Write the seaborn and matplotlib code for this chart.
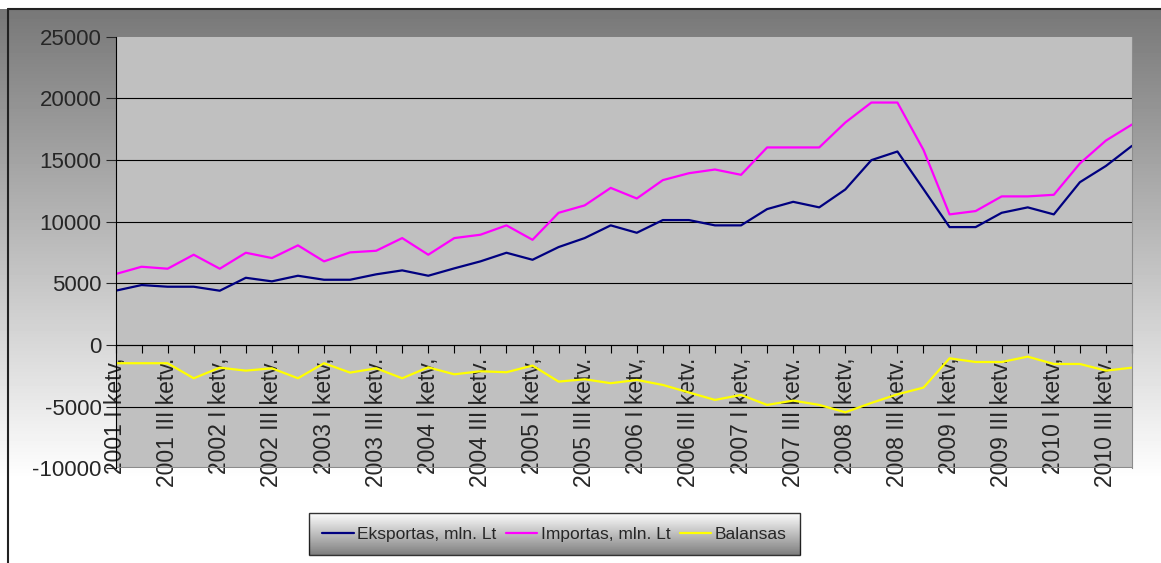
import numpy as np
import pandas as pd
import seaborn as sns
from matplotlib import pyplot as plt
from matplotlib.lines import Line2D

# ketvirčiai 2001 I - 2010 IV
years = [2001, 2002, 2003, 2004, 2005, 2006, 2007, 2008, 2009, 2010]
tick_labels = []
for y in years:
    tick_labels.append(f"{y} I ketv,")
    tick_labels.append(f"{y} III ketv.")

eksportas = [4400, 4860, 4725, 4725, 4400, 5450, 5160, 5615, 5290, 5290,
             5730, 6050, 5615, 6215, 6780, 7480, 6910, 7940, 8670, 9700,
             9100, 10130, 10130, 9700, 9700, 11020, 11610, 11160, 12610, 14990,
             15690, 12640, 9560, 9560, 10720, 11160, 10590, 13200, 14520, 16150]
importas = [5750, 6345, 6185, 7320, 6185, 7480, 7050, 8080, 6780, 7510,
            7640, 8670, 7320, 8670, 8940, 9700, 8530, 10720, 11320, 12740,
            11880, 13370, 13930, 14230, 13800, 16020, 16020, 16020, 18040, 19660,
            19660, 15820, 10590, 10860, 12050, 12050, 12180, 14720, 16580, 17880]
balansas = [-1480, -1480, -1480, -2700, -1840, -2080, -1890, -2700, -1480, -2240,
            -1890, -2700, -1810, -2380, -2130, -2210, -1670, -2970, -2780, -3100,
            -2835, -3240, -3850, -4455, -4050, -4860, -4510, -4860, -5455, -4700,
            -4000, -3455, -1080, -1380, -1380, -945, -1540, -1540, -2080, -1840]

series_names = ["Eksportas, mln. Lt", "Importas, mln. Lt", "Balansas"]
colors = ["#000080", "#FF00FF", "#FFFF00"]

n = len(eksportas)
df = pd.DataFrame({
    "idx": list(range(n)) * 3,
    "value": eksportas + importas + balansas,
    "series": [series_names[0]] * n + [series_names[1]] * n + [series_names[2]] * n,
})

sns.set_style("white")
plt.rcParams["font.family"] = ["Liberation Sans", "DejaVu Sans"]

W, H = 1161, 563
fig = plt.figure(figsize=(W / 100, H / 100), dpi=100)

# fonas su gradientu (pilka -> balta)
bg = fig.add_axes([0, 0, 1, 1], zorder=-10)
rows = np.arange(H)
shade = 0.47 + 0.53 * np.clip((rows - 9) / 470, 0, 1)
shade[rows < 9] = 1.0
bg.imshow(np.repeat(shade[:, None], 4, axis=1), cmap="gray", vmin=0, vmax=1,
          aspect="auto", extent=[0, W, H, 0])
bg.plot([8, 8], [9, H], color="#222222", lw=1.5)
bg.plot([8, W], [9, 9], color="#222222", lw=1.5)
bg.set_xlim(0, W)
bg.set_ylim(H, 0)
bg.axis("off")

ax = fig.add_axes([115.5 / W, 1 - 468.3 / H, (1132 - 115.5) / W, (468.3 - 36.7) / H])
ax.set_facecolor("#C0C0C0")

sns.lineplot(data=df, x="idx", y="value", hue="series", palette=colors,
             linewidth=1.6, ax=ax, legend=False)

# x ašis kerta ties nuliu (prieš nustatant žymes, nes tai jas perkuria)
ax.spines["bottom"].set_position(("data", 0))
ax.spines["bottom"].set_color("black")
ax.spines["left"].set_color("black")
ax.spines["top"].set_visible(False)
ax.spines["right"].set_color("#8c8c8c")

ax.set_xlim(0, n - 1)
ax.set_ylim(-10000, 25000)
ax.set_yticks(range(-10000, 25001, 5000))
ax.set_yticklabels([str(v) for v in range(-10000, 25001, 5000)], fontsize=16)
ax.yaxis.grid(True, color="black", lw=0.8)
gl = ax.yaxis.get_gridlines()
gl[0].set_color("#8c8c8c")
gl[0].set_linewidth(1.5)
gl[-1].set_visible(False)

ax.set_xticks(range(0, n, 2))
ax.set_xticks(range(1, n, 2), minor=True)
ax.set_xticklabels(tick_labels, rotation=90, va="top", ha="center", fontsize=16.5)
ax.tick_params(axis="x", which="both", direction="out", length=6, width=0.8, pad=3,
               color="black", bottom=True)
ax.tick_params(axis="y", direction="out", length=7, width=0.8, left=True, pad=3)
ax.set_xlabel("")
ax.set_ylabel("")

handles = [Line2D([], [], color=c, lw=1.6) for c in colors]
leg = fig.legend(handles, series_names, loc="center", ncol=3,
                 bbox_to_anchor=(554.5 / W, 1 - 534 / H), fontsize=12.5,
                 frameon=True, fancybox=False, edgecolor="black",
                 handlelength=1.8, handletextpad=0.2, columnspacing=0.55,
                 borderpad=0.8)
leg.get_frame().set_facecolor("none")
leg.get_frame().set_linewidth(1.0)

# legendos fonas su gradientu
fig.canvas.draw()
bb = leg.get_window_extent()
lax = fig.add_axes([bb.x0 / W, bb.y0 / H, bb.width / W, bb.height / H], zorder=1)
lg = np.linspace(1.0, 0.5, 50)[:, None]
lax.imshow(lg, cmap="gray", vmin=0, vmax=1, aspect="auto")
lax.axis("off")

plt.savefig("out.png", dpi=100)
plt.close()
